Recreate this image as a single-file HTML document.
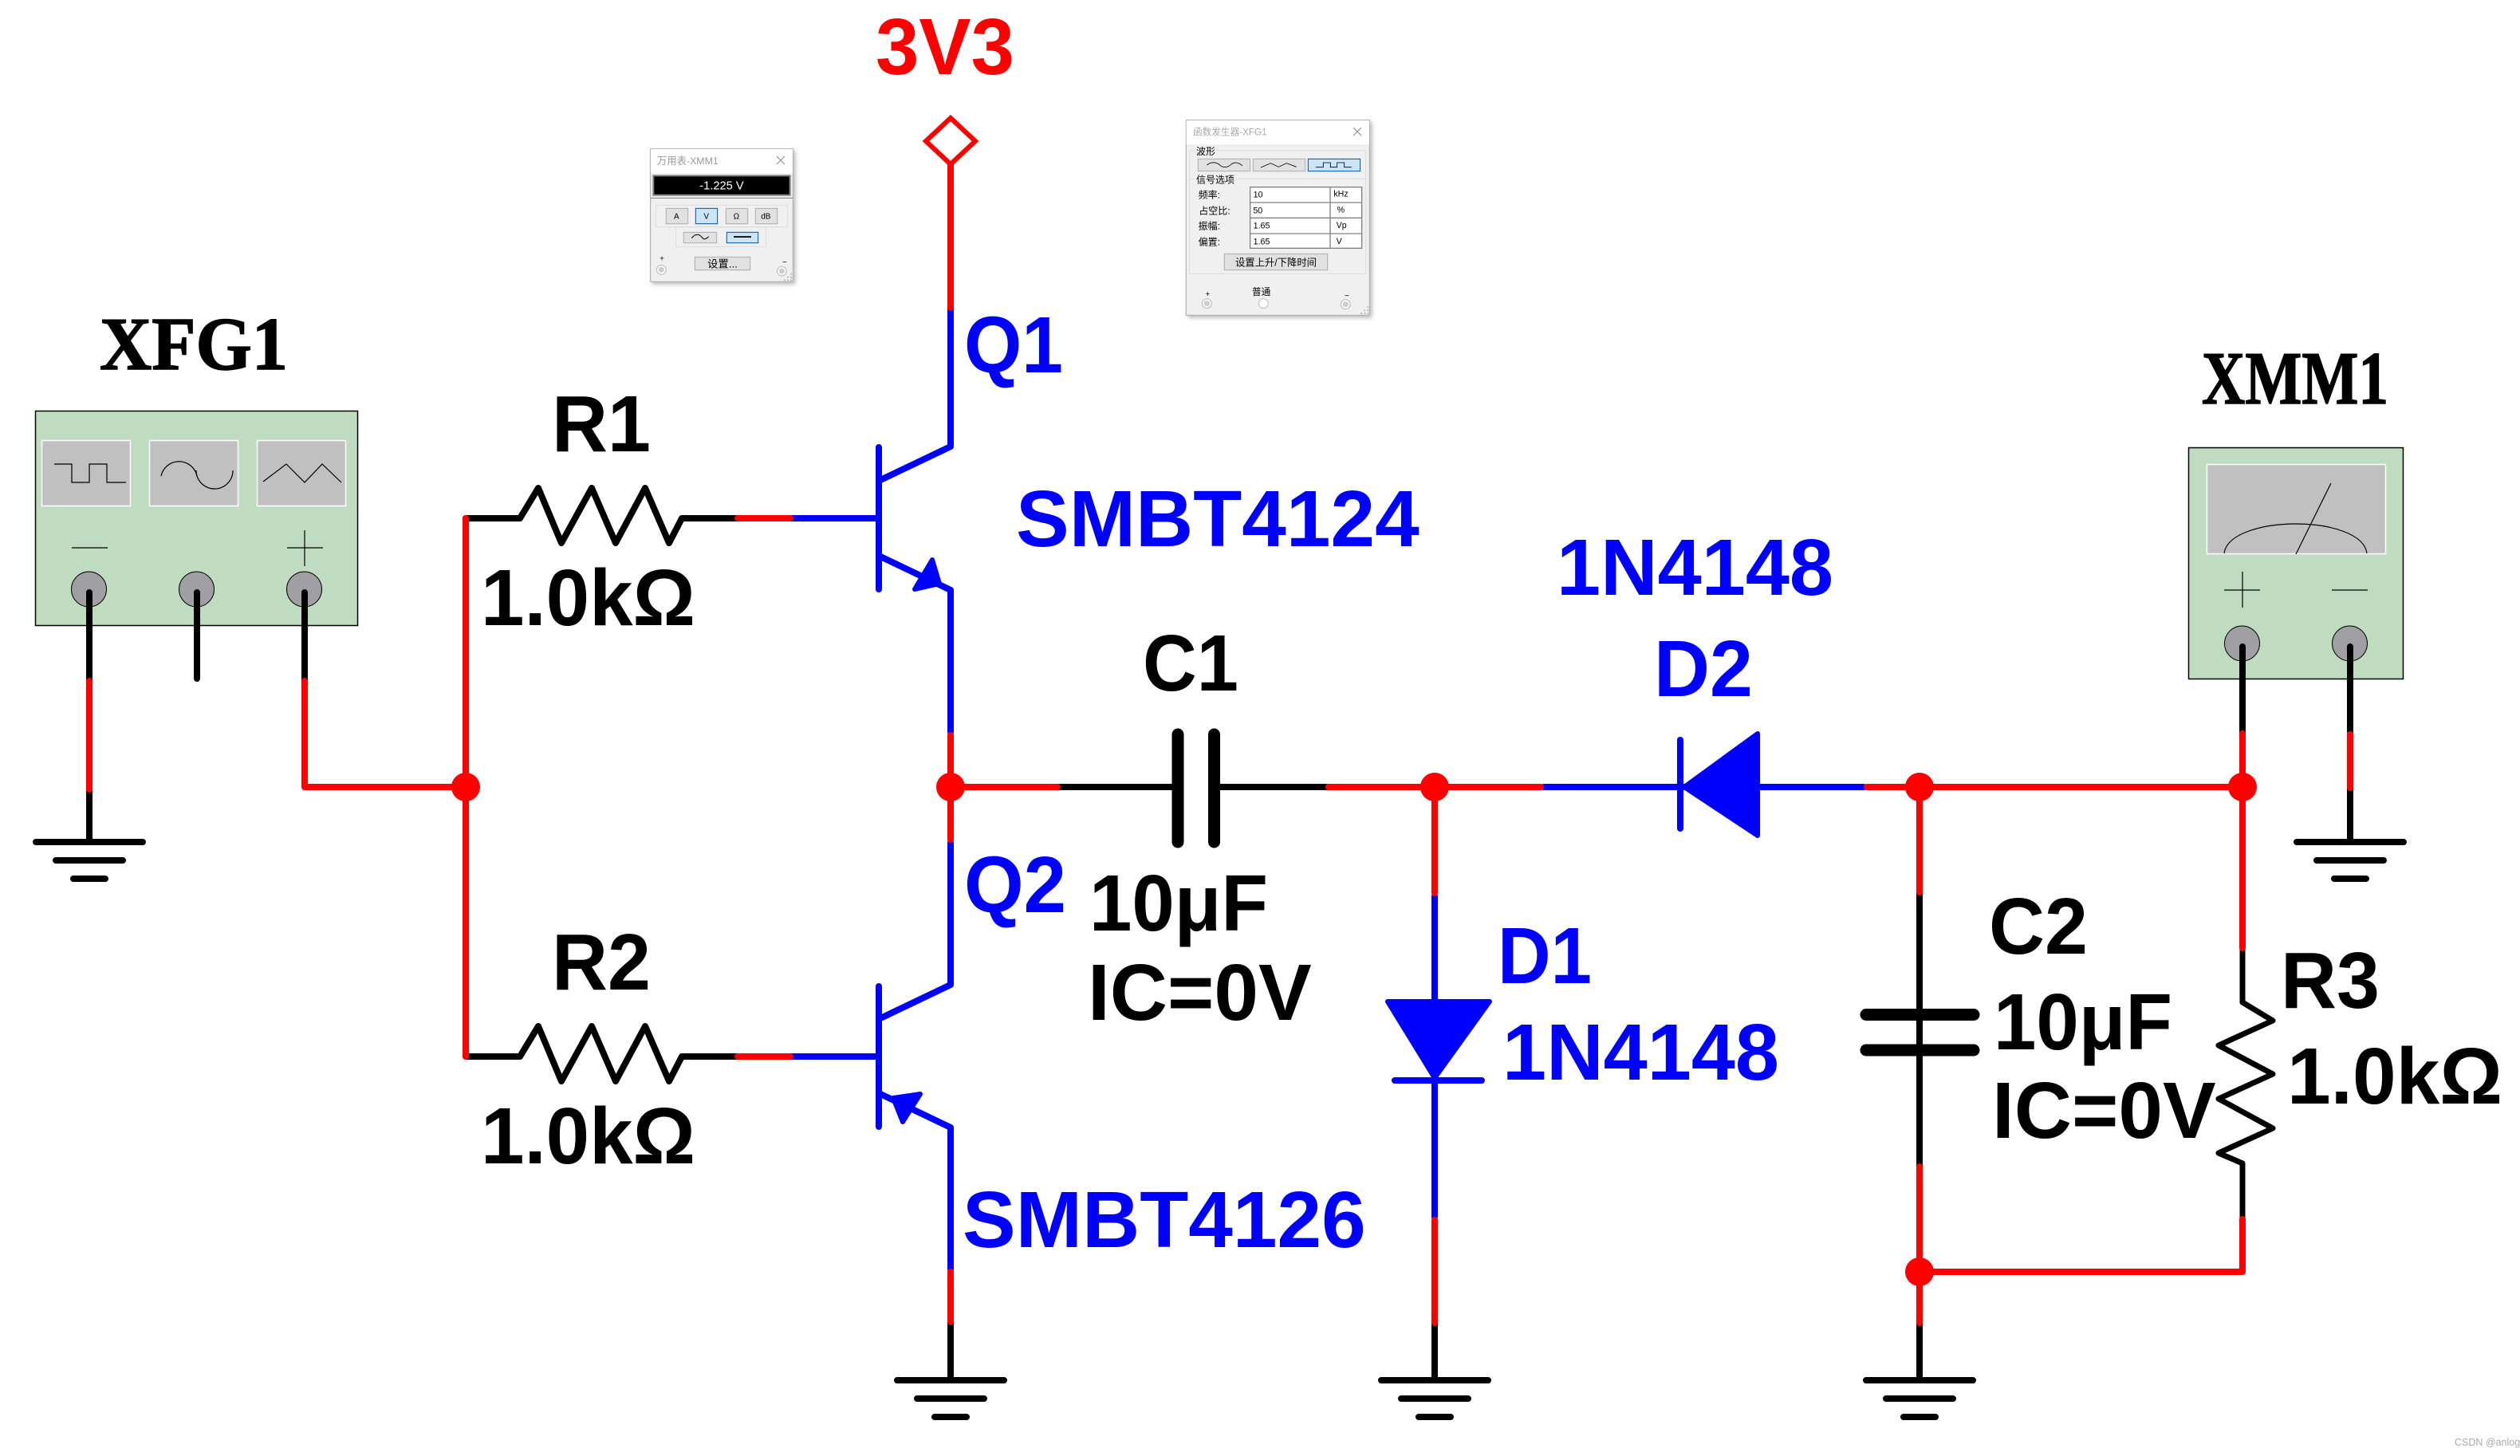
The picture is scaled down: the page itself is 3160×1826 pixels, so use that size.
<!DOCTYPE html>
<html><head><meta charset="utf-8"><style>
html,body{margin:0;padding:0;background:#fff}
svg{display:block}
.t{font-family:"Liberation Sans","Noto Sans CJK SC",sans-serif;font-weight:bold;font-size:100px}
.m{font-family:"Liberation Serif",serif;font-weight:bold;font-size:94px;fill:#000;stroke:#000;stroke-width:1.5px}
.b{fill:#0000ff}.r{fill:#ff0000}.k{fill:#000}
.W{fill:none;stroke-width:8;stroke-linecap:round;stroke-linejoin:round}
.RR{stroke:#ff0000}.BB{stroke:#0000ff}.KK{stroke:#000}
.u{font-family:"Liberation Sans","Noto Sans CJK SC",sans-serif;fill:#000}
</style></head><body>
<svg xmlns="http://www.w3.org/2000/svg" width="3160" height="1826" viewBox="0 0 3160 1826">
<defs><filter id="s" x="-10%" y="-10%" width="125%" height="125%"><feDropShadow dx="8" dy="8" stdDeviation="8" flood-color="#000" flood-opacity=".28"/></filter></defs>
<rect width="3160" height="1826" fill="#fff"/>

<!-- XFG1 -->
<rect x="44.5" y="515.5" width="404" height="269" fill="#c0dcc0" stroke="#000" stroke-width="1.5"/>
<g fill="#c0c0c0" stroke="#fff" stroke-width="1.5">
<rect x="52.5" y="552.5" width="111" height="82"/><rect x="187.5" y="552.5" width="111" height="82"/><rect x="322.5" y="552.5" width="111" height="82"/></g>
<g fill="none" stroke="#000" stroke-width="1.2">
<polyline points="68,582 90,582 90,605 112,605 112,582 134,582 134,605 158,605"/>
<path d="M202,597 A23,23 0 0 1 247,597"/><path d="M246,590 A23,23 0 0 0 292,590"/>
<polyline points="330,604 359,582 382,605 404,582 428,605"/>
<path d="M90,687H135M360,687H405M382,665V710"/></g>
<g fill="#a0a0a4" stroke="#000" stroke-width="1"><circle cx="111.500" cy="739" r="22"/><circle cx="246.500" cy="739" r="22"/><circle cx="381.500" cy="739" r="22"/></g>

<!-- XMM1 -->
<rect x="2744.5" y="561.5" width="269" height="290" fill="#c0dcc0" stroke="#000" stroke-width="1.5"/>
<rect x="2767.5" y="582.5" width="224" height="112" fill="#c0c0c0" stroke="#fff" stroke-width="1.5"/>
<g fill="none" stroke="#000" stroke-width="1.2">
<path d="M2789,694 C2792,670 2835,657 2879,657 C2923,657 2965,670 2968,694"/>
<path d="M2879,695L2923,606M2789,740H2834M2812,717V762M2924,740H2969"/></g>
<g fill="#a0a0a4" stroke="#000" stroke-width="1"><circle cx="2811.500" cy="807" r="22"/><circle cx="2946.500" cy="807" r="22"/></g>

<!-- black wires -->
<g class="W KK">
<path d="M112,743V854M247,743V851M382,743V854"/>
<path d="M2812,811V920M2947,811V918M2947,988V1054"/>
<path d="M112,990V1054"/>
<!-- resistors -->
<polyline points="584,650 652,650 675,612 704,681 742,612 772,681 809,612 839,681 855,650 925,650"/>
<polyline points="584,1325 652,1325 675,1287 704,1356 742,1287 772,1356 809,1287 839,1356 855,1325 925,1325"/>
<polyline points="2812,1189 2812,1257 2850,1280 2782,1311 2850,1347 2782,1378 2850,1415 2782,1446 2812,1459 2812,1529" stroke-width="7"/>
<path d="M1326,987H1477M1522,987H1666"/>
<path d="M2407,1119V1463"/>
<path d="M1192,1658V1729M1799,1659V1729M2407,1659V1729"/>
</g>
<!-- grounds -->
<g stroke="#000" stroke-width="8" stroke-linecap="round">
<path d="M45,1056H179M70,1079H154M92,1102H132"/>
<path d="M2880,1056H3014M2905,1079H2989M2927,1102H2967"/>
<path d="M1125,1731H1259M1150,1754H1234M1172,1777H1212"/>
<path d="M1732,1731H1866M1757,1754H1841M1779,1777H1819"/>
<path d="M2340,1731H2474M2365,1754H2449M2387,1777H2427"/>
</g>
<!-- capacitors -->
<g stroke="#000" stroke-width="15" stroke-linecap="round">
<path d="M1477,921V1056M1522.5,921V1056"/>
<path d="M2340,1272.5H2475M2340,1317H2475"/>
</g>

<!-- blue -->
<g class="W BB">
<path d="M990,650H1102M990,1325H1102"/>
<path d="M1102,561V739M1102,1237V1413"/>
<path d="M1102,603L1192,560V383"/>
<path d="M1102,697L1192,740V918"/>
<path d="M1102,1278L1192,1235V1057"/>
<path d="M1102,1371L1192,1414V1592"/>
<path d="M1799,1124V1526"/>
<path d="M1936,987H2337"/>
<path d="M2107,928V1039"/>
<path d="M1749,1355H1858"/>
</g>
<g fill="#0000ff" stroke="#0000ff" stroke-width="6" stroke-linejoin="round">
<polygon points="1169,702 1178,732 1147,739"/>
<polygon points="1120,1377 1154,1372 1132,1407"/>
<polygon points="1740,1256 1868,1256 1799,1352"/>
<polygon points="2112,987 2204,920 2204,1048"/>
</g>

<!-- red -->
<g class="W RR">
<path d="M112,854V990M382,854V987H584"/>
<path d="M925,650H991M925,1325H991"/>
<path d="M584,650V1325"/>
<path d="M1192,207V386M1192,922V1053M1192,987H1326M1666,987H1932M1799,987V1120"/>
<path d="M2341,987H2812M2812,920V1189M2947,921V988"/>
<path d="M2407,987V1119M2407,1463V1659M2407,1595H2812V1529"/>
<path d="M1192,1595V1658M1799,1530V1659"/>
</g>
<g fill="#ff0000">
<circle cx="584" cy="987" r="18"/><circle cx="1192" cy="987" r="18"/><circle cx="1799" cy="987" r="18"/><circle cx="2407" cy="987" r="18"/><circle cx="2812" cy="987" r="18"/><circle cx="2407" cy="1595" r="18"/>
</g>
<polygon points="1192,148 1223,177 1192,206 1161,177" fill="#fff" stroke="#ff0000" stroke-width="6"/>

<!-- labels -->
<text class="m" x="125" y="463" textLength="236" lengthAdjust="spacingAndGlyphs">XFG1</text>
<text class="m" x="2761" y="506" textLength="234" lengthAdjust="spacingAndGlyphs">XMM1</text>
<text class="t r" x="1098" y="93" textLength="174" lengthAdjust="spacingAndGlyphs">3V3</text>
<g class="t k">
<text x="692" y="566" textLength="124" lengthAdjust="spacingAndGlyphs">R1</text><text x="603" y="784" textLength="269" lengthAdjust="spacingAndGlyphs">1.0kΩ</text>
<text x="692" y="1241" textLength="124" lengthAdjust="spacingAndGlyphs">R2</text><text x="603" y="1459" textLength="269" lengthAdjust="spacingAndGlyphs">1.0kΩ</text>
<text x="1433" y="866" textLength="120" lengthAdjust="spacingAndGlyphs">C1</text><text x="1366" y="1167" textLength="224" lengthAdjust="spacingAndGlyphs">10μF</text><text x="1364" y="1279">IC=0V</text>
<text x="2494" y="1196" textLength="124" lengthAdjust="spacingAndGlyphs">C2</text><text x="2500" y="1316" textLength="224" lengthAdjust="spacingAndGlyphs">10μF</text><text x="2498" y="1427">IC=0V</text>
<text x="2860" y="1264" textLength="124" lengthAdjust="spacingAndGlyphs">R3</text><text x="2868" y="1384" textLength="270" lengthAdjust="spacingAndGlyphs">1.0kΩ</text>
</g>
<g class="t b">
<text x="1209" y="467" textLength="124" lengthAdjust="spacingAndGlyphs">Q1</text><text x="1209" y="1144" textLength="128" lengthAdjust="spacingAndGlyphs">Q2</text>
<text x="1274" y="685">SMBT4124</text><text x="1207" y="1564">SMBT4126</text>
<text x="1952" y="746" textLength="347" lengthAdjust="spacingAndGlyphs">1N4148</text><text x="2074" y="873" textLength="124" lengthAdjust="spacingAndGlyphs">D2</text>
<text x="1878" y="1233" textLength="118" lengthAdjust="spacingAndGlyphs">D1</text><text x="1884" y="1354" textLength="347" lengthAdjust="spacingAndGlyphs">1N4148</text>
</g>
<text x="3078" y="1813" font-family="Liberation Sans,sans-serif" font-size="12.5" fill="#aaa">CSDN @anlog</text>

<!-- multimeter dialog -->
<g transform="translate(780,160) scale(.3333)">
<rect x="107" y="80" width="536" height="500" fill="#f0f0f0" stroke="#a9a9a9" stroke-width="3" filter="url(#s)"/>
<rect x="108" y="81" width="534" height="91" fill="#fff"/>
<text class="u" x="132" y="138" font-size="37" style="fill:#999">万用表-XMM1</text>
<path d="M582,108L612,138M612,108L582,138" stroke="#888" stroke-width="3"/>
<rect x="118" y="181" width="514" height="73" fill="#000" stroke="#808080" stroke-width="6"/>
<text class="u" x="375" y="232" font-size="44" text-anchor="middle" style="fill:#fff">-1.225 V</text>
<path d="M107,265H643" stroke="#808080" stroke-width="3"/>
<g fill="none" stroke="#dcdcdc" stroke-width="3"><rect x="127" y="292" width="496" height="82"/><rect x="203" y="374" width="338" height="74"/></g>
<g fill="#e1e1e1" stroke="#adadad" stroke-width="3">
<rect x="166" y="304" width="82" height="58"/><rect x="391" y="304" width="82" height="58"/><rect x="502" y="304" width="82" height="58"/>
<rect x="232" y="394" width="124" height="40"/><rect x="274" y="487" width="208" height="49"/></g>
<g fill="#cce4f7" stroke="#005499" stroke-width="3"><rect x="277" y="304" width="82" height="58"/><rect x="394" y="394" width="118" height="40"/></g>
<g class="u" font-size="30" text-anchor="middle"><text x="205" y="344">A</text><text x="317" y="344">V</text><text x="430" y="344">Ω</text><text x="541" y="344">dB</text>
<text x="150" y="503">+</text><text x="612" y="516">−</text><text x="378" y="527" font-size="40">设置...</text></g>
<path d="M262,416C278,396 292,402 300,412C308,424 316,420 326,410" fill="none" stroke="#000" stroke-width="3"/>
<path d="M420,411H486" stroke="#000" stroke-width="5"/>
<g fill="#ccc" stroke="#fff" stroke-width="3"><circle cx="148" cy="535" r="12"/><circle cx="601" cy="540" r="12"/></g>
<g fill="none" stroke="#bbb" stroke-width="3"><circle cx="148" cy="535" r="18"/><circle cx="601" cy="540" r="18"/></g>
<g fill="#bbb"><rect x="633" y="548" width="6" height="6"/><rect x="621" y="560" width="6" height="6"/><rect x="633" y="560" width="6" height="6"/><rect x="609" y="571" width="6" height="6"/><rect x="621" y="571" width="6" height="6"/><rect x="633" y="571" width="6" height="6"/></g>
</g>

<!-- function generator dialog -->
<g transform="translate(1470,130) scale(.3333)">
<rect x="52" y="62" width="690" height="734" fill="#f0f0f0" stroke="#a9a9a9" stroke-width="3" filter="url(#s)"/>
<rect x="53" y="63" width="688" height="90" fill="#fff"/>
<text class="u" x="78" y="119" font-size="35" style="fill:#aaa">函数发生器-XFG1</text>
<path d="M681,90L711,120M711,90L681,120" stroke="#888" stroke-width="3"/>
<rect x="65" y="176" width="663" height="464" fill="none" stroke="#dcdcdc" stroke-width="3"/>
<path d="M65,283H728" stroke="#dcdcdc" stroke-width="3"/>
<rect x="84" y="160" width="80" height="36" fill="#f0f0f0"/><rect x="84" y="268" width="154" height="36" fill="#f0f0f0"/>
<g class="u" font-size="36"><text x="90" y="192">波形</text><text x="90" y="299">信号选项</text>
<text x="98" y="355">频率:</text><text x="100" y="415">占空比:</text><text x="98" y="472">振幅:</text><text x="98" y="533">偏置:</text></g>
<g fill="#e1e1e1" stroke="#adadad" stroke-width="3"><rect x="97" y="208" width="196" height="46"/><rect x="304" y="208" width="196" height="46"/><rect x="196" y="565" width="388" height="61"/></g>
<rect x="511" y="208" width="196" height="46" fill="#cce4f7" stroke="#005499" stroke-width="3"/>
<g fill="none" stroke="#000" stroke-width="2.5">
<path d="M130,231C150,215 170,222 180,232C192,243 210,240 222,228C235,218 252,222 264,234"/>
<path d="M333,240L370,224L400,238L430,224L467,238"/>
<path d="M540,239H568V222H595V239H620V222H647V239H675"/></g>
<rect x="293" y="314" width="420" height="230" fill="#fff" stroke="#808080" stroke-width="4"/>
<path d="M293,372H713M293,430H713M293,489H713M594,314V544" stroke="#808080" stroke-width="4"/>
<g class="u" font-size="32"><text x="305" y="353">10</text><text x="304" y="412">50</text><text x="305" y="470">1.65</text><text x="305" y="530">1.65</text>
<text x="607" y="350">kHz</text><text x="620" y="410">%</text><text x="617" y="468">Vp</text><text x="617" y="528">V</text></g>
<g class="u" text-anchor="middle"><text x="390" y="610" font-size="37">设置上升/下降时间</text><text x="335" y="720" font-size="35">普通</text><text x="133" y="726" font-size="30">+</text><text x="657" y="732" font-size="30">−</text></g>
<g fill="#ccc" stroke="#fff" stroke-width="3"><circle cx="130" cy="752" r="12"/><circle cx="652" cy="755" r="12"/></g>
<circle cx="343" cy="752" r="18" fill="#fff" stroke="#bbb" stroke-width="3"/>
<g fill="none" stroke="#bbb" stroke-width="3"><circle cx="130" cy="752" r="18"/><circle cx="652" cy="755" r="18"/></g>
<g fill="#bbb"><rect x="733" y="763" width="6" height="6"/><rect x="721" y="775" width="6" height="6"/><rect x="733" y="775" width="6" height="6"/><rect x="709" y="786" width="6" height="6"/><rect x="721" y="786" width="6" height="6"/><rect x="733" y="786" width="6" height="6"/></g>
</g>
</svg>
</body></html>
